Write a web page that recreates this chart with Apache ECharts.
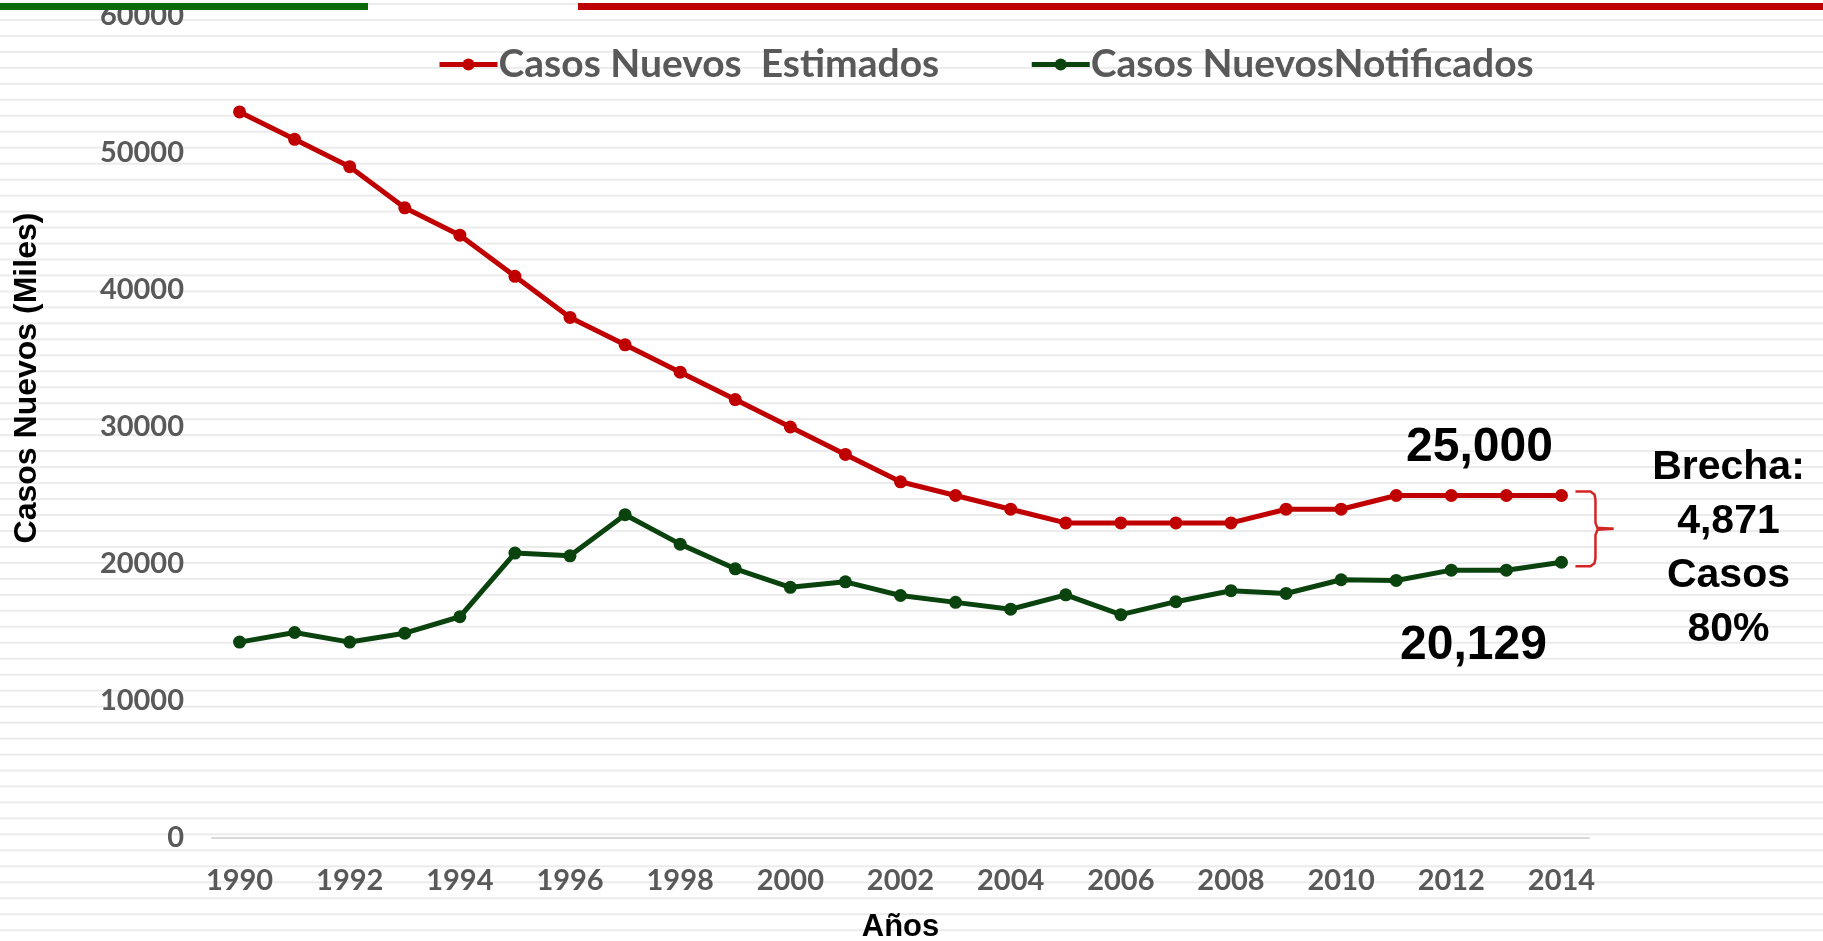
<!DOCTYPE html>
<html>
<head>
<meta charset="utf-8">
<script src="https://cdn.jsdelivr.net/npm/echarts@6/dist/echarts.min.js"></script>
<style>
  html, body { margin: 0; padding: 0; }
  body {
    width: 1823px; height: 941px; background-color: #fff;
    background-image: linear-gradient(to bottom, #ebebeb 0, #ebebeb 2px, rgba(255,255,255,0) 2px);
    background-size: 100% 15.97px;
    background-position: 0 3px;
  }
  #chart { width: 1823px; height: 941px; }
</style>
</head>
<body>
<div id="chart"></div>
<script>
// years on the x axis
var years = ['1990', '1991', '1992', '1993', '1994', '1995', '1996', '1997', '1998', '1999',
  '2000', '2001', '2002', '2003', '2004', '2005', '2006', '2007', '2008', '2009',
  '2010', '2011', '2012', '2013', '2014'];

// Casos nuevos estimados
var estimados = [53000, 51000, 49000, 46000, 44000, 41000, 38000, 36000, 34000, 32000,
  30000, 28000, 26000, 25000, 24000, 23000, 23000, 23000, 23000, 24000,
  24000, 25000, 25000, 25000, 25000];

// Casos nuevos notificados
var notificados = [14300, 15000, 14300, 14950, 16150, 20800, 20600, 23600, 21450, 19650,
  18300, 18700, 17700, 17200, 16700, 17750, 16300, 17250, 18050, 17850,
  18850, 18800, 19550, 19550, 20129];

var seriesNames = ['Casos Nuevos  Estimados', 'Casos NuevosNotificados'];
var yMin = 0, yMax = 60000, yStep = 10000;
var yTitle = 'Casos Nuevos (Miles)';

var lastEstimado = '25,000';
var lastNotificado = '20,129';
var brechaLines = ['Brecha:', '4,871', 'Casos', '80%'];

var RED = '#c00000';
var GREEN = '#0b430f';
var GRAY = '#595959';

var chart = echarts.init(document.getElementById('chart'));

chart.setOption({
    animation: false,
    backgroundColor: 'transparent',
    grid: { left: 212, right: 234, top: 16, bottom: 103, outerBoundsMode: 'none', containLabel: false },
    legend: {
        left: 432,
        top: 40,
        itemWidth: 58,
        itemHeight: 15,
        itemGap: 90,
        lineStyle: { width: 5 },
        textStyle: { fontFamily: 'Lato', fontWeight: 'bold', fontSize: 39, color: GRAY, padding: [0, 0, 0, -4] },
        data: seriesNames
    },
    xAxis: {
        type: 'category',
        data: years,
        boundaryGap: true,
        name: 'Años',
        nameLocation: 'middle',
        nameGap: 74,
        nameTextStyle: { fontFamily: 'Liberation Sans', fontWeight: 'bold', fontSize: 31, color: '#000' },
        axisLine: { lineStyle: { color: '#d9d9d9', width: 2 } },
        axisTick: { show: false },
        axisLabel: {
            interval: 1,
            margin: 28,
            fontFamily: 'Lato', fontWeight: 'bold', fontSize: 29, color: GRAY
        },
        splitLine: { show: false }
    },
    yAxis: {
        type: 'value',
        min: yMin,
        max: yMax,
        interval: yStep,
        axisLine: { show: false },
        axisTick: { show: false },
        splitLine: { show: false },
        axisLabel: {
            margin: 28,
            formatter: function (v) { return String(v); },
            fontFamily: 'Lato', fontWeight: 'bold', fontSize: 29, color: GRAY
        }
    },
    series: [
        {
            name: seriesNames[0],
            type: 'line',
            data: estimados,
            symbol: 'circle',
            symbolSize: 13,
            lineStyle: { color: RED, width: 5 },
            itemStyle: { color: RED }
        },
        {
            name: seriesNames[1],
            type: 'line',
            data: notificados,
            symbol: 'circle',
            symbolSize: 13,
            lineStyle: { color: GREEN, width: 5 },
            itemStyle: { color: GREEN }
        }
    ]
});

// annotations anchored on the last data points
var last = years.length - 1;
var pRed = chart.convertToPixel({ seriesIndex: 0 }, [last, estimados[last]]);
var pGreen = chart.convertToPixel({ seriesIndex: 1 }, [last, notificados[last]]);

var bx = pRed[0] + 14;
var yt = pRed[1] - 4, yb = pGreen[1] + 4, ym = (yt + yb) / 2;
var braceStyle = { fill: null, stroke: '#d42525', lineWidth: 2.5 };

var bigText = { fontFamily: 'Liberation Sans', fontWeight: 'bold', fontSize: 48, fill: '#000', align: 'center', verticalAlign: 'middle' };

chart.setOption({
    graphic: [
        { type: 'rect', z: 100, shape: { x: 0, y: 3, width: 368, height: 7 }, style: { fill: '#0b6b0b' } },
        { type: 'rect', z: 100, shape: { x: 578, y: 3, width: 1245, height: 7 }, style: { fill: '#bf0000' } },
        {
            type: 'text', x: 27, y: 378, rotation: Math.PI / 2,
            style: {
                text: yTitle, fontFamily: 'Liberation Sans', fontWeight: 'bold', fontSize: 32,
                fill: '#000', align: 'center', verticalAlign: 'middle'
            }
        },
        {
            type: 'text', x: pRed[0] - 82, y: pRed[1] - 48,
            style: Object.assign({ text: lastEstimado }, bigText)
        },
        {
            type: 'text', x: pGreen[0] - 88, y: pGreen[1] + 84,
            style: Object.assign({ text: lastNotificado }, bigText)
        },
        {
            type: 'polyline',
            shape: { points: [[bx, yt], [bx + 15, yt], [bx + 19, yt + 3], [bx + 20, yt + 8], [bx + 20, ym - 6], [bx + 22, ym - 1], [bx + 38, ym]] },
            style: braceStyle
        },
        {
            type: 'polyline',
            shape: { points: [[bx, yb], [bx + 15, yb], [bx + 19, yb - 3], [bx + 20, yb - 8], [bx + 20, ym + 6], [bx + 22, ym + 1], [bx + 38, ym]] },
            style: braceStyle
        },
        {
            type: 'text', x: pRed[0] + 167, y: ym + 20,
            style: {
                text: brechaLines.join('\n'),
                fontFamily: 'Liberation Sans', fontWeight: 'bold', fontSize: 41, lineHeight: 54,
                fill: '#000', align: 'center', verticalAlign: 'middle'
            }
        }
    ]
});
</script>
</body>
</html>
